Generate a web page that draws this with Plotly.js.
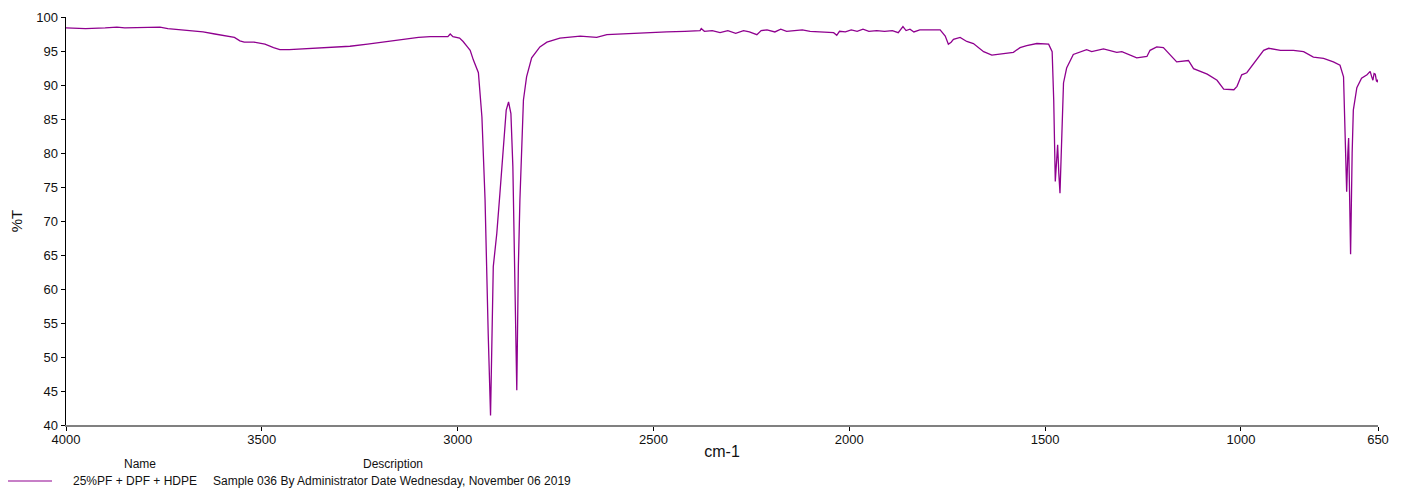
<!DOCTYPE html>
<html>
<head>
<meta charset="utf-8">
<script src="https://cdn.plot.ly/plotly-3.0.1.min.js"></script>
<style>html,body{margin:0;padding:0;background:#fff;}#chart{width:1409px;height:491px;}</style>
</head>
<body>
<div id="chart"></div>
<script>
const wavenumber = [4000,3950,3900,3870,3850,3800,3760,3740,3720,3700,3680,3650,3620,3590,3570,3556,3545,3520,3492,3470,3454,3430,3402,3350,3300,3275,3230,3180,3147,3100,3070,3040,3025,3019,3012,2995,2986,2975,2968,2960,2947,2938,2930,2922,2916,2909,2900,2892,2883,2876,2870,2864,2859,2854,2849,2845,2841,2832,2824,2811,2790,2772,2739,2687,2645,2619,2585,2551,2500,2466,2420,2381,2378,2370,2350,2330,2310,2290,2270,2255,2236,2225,2210,2190,2175,2160,2140,2120,2100,2080,2060,2040,2032,2025,2010,1995,1980,1965,1950,1930,1910,1890,1875,1863,1855,1845,1835,1820,1790,1768,1755,1747,1740,1734,1717,1700,1683,1670,1657,1636,1606,1581,1564,1547,1521,1491,1482,1478,1474,1468,1465,1462,1453,1445,1428,1394,1381,1351,1317,1304,1266,1240,1232,1215,1198,1164,1134,1121,1086,1061,1044,1018,1010,998,985,942,929,899,866,840,815,789,764,747,738,734,730,727,725,722,720,716,713,704,692,678,670,666,663,660,657,654,652,650];
const transmittance = [98.4,98.3,98.4,98.5,98.4,98.4,98.5,98.3,98.2,98.1,98.0,97.8,97.5,97.2,97.0,96.5,96.3,96.3,96.0,95.5,95.2,95.2,95.3,95.5,95.6,95.7,96.0,96.4,96.6,97.0,97.1,97.1,97.1,97.5,97.1,96.9,96.4,95.6,95.1,93.7,91.8,85.3,73.1,53.5,41.4,63.3,68.2,74.1,81.4,86.3,87.5,85.8,78.0,63.3,45.1,63.3,73.1,87.8,91.2,94.0,95.6,96.3,96.9,97.2,97.0,97.4,97.5,97.6,97.8,97.8,97.9,98.0,98.3,97.9,98.0,97.7,98.0,97.6,98.0,97.8,97.4,98.0,98.1,97.8,98.2,97.9,98.0,98.1,97.9,97.8,97.8,97.7,97.3,97.9,97.8,98.1,97.9,98.2,97.9,98.0,97.9,98.0,97.7,98.6,98.0,98.2,97.8,98.1,98.1,98.1,97.2,96.0,96.3,96.7,97.0,96.4,96.1,95.5,94.9,94.4,94.6,94.8,95.5,95.8,96.1,96.0,94.9,87.8,75.8,81.2,77.0,74.1,90.3,92.5,94.5,95.2,94.9,95.3,94.8,94.9,94.0,94.2,95.1,95.6,95.5,93.4,93.6,92.4,91.6,90.7,89.4,89.3,89.8,91.5,91.8,95.1,95.4,95.1,95.1,94.9,94.1,93.9,93.4,92.9,91.2,82.9,74.3,80.0,82.2,72.0,65.1,80.0,86.3,89.6,91.0,91.5,92.0,91.2,90.7,91.7,91.6,90.6,90.5,90.8];
const xTicks = [4000,3500,3000,2500,2000,1500,1000,650];
const yTicks = [40,45,50,55,60,65,70,75,80,85,90,95,100];
const seriesName = "25%PF + DPF + HDPE";
const seriesDesc = "Sample 036 By Administrator Date Wednesday, November 06 2019";

const W = 1409, H = 491, L = 66, R = 31, T = 17, B = 66;
const pw = W - L - R, ph = H - T - B;
const px = v => (v - L) / pw;
const py = v => (H - B - v) / ph;
const lineColor = '#8f008f';
const font = 'Arial, "Liberation Sans", sans-serif';

const trace = {
  x: wavenumber, y: transmittance, type: 'scatter', mode: 'lines',
  line: {color: lineColor, width: 1.3}, name: seriesName, showlegend: false
};

const layout = {
  width: W, height: H,
  margin: {l: L, r: R, t: T, b: B, pad: 0},
  paper_bgcolor: '#fff', plot_bgcolor: '#fff',
  font: {family: font, color: '#111', size: 13},
  showlegend: false,
  xaxis: {
    range: [4000, 650], tickvals: xTicks, ticktext: xTicks.map(String),
    showgrid: false, zeroline: false, showline: true, linecolor: '#808080', linewidth: 2,
    ticks: 'outside', ticklen: 4, tickcolor: '#000', tickwidth: 1,
    ticklabelstandoff: -3,
    tickfont: {family: font, size: 13, color: '#111'},
    title: {text: 'cm-1', font: {family: font, size: 16, color: '#111'}, standoff: 0}
  },
  yaxis: {
    range: [40, 100], tickvals: yTicks, ticktext: yTicks.map(String),
    showgrid: false, zeroline: false, showline: true, linecolor: '#000', linewidth: 1.5,
    ticks: 'outside', ticklen: 4, tickcolor: '#000', tickwidth: 1,
    tickfont: {family: font, size: 13, color: '#111'},
    title: {text: '%T', font: {family: font, size: 15, color: '#111'}, standoff: 10}
  },
  shapes: [
    {type: 'line', xref: 'paper', yref: 'paper', x0: px(8), x1: px(52), y0: py(481), y1: py(481),
     line: {color: lineColor, width: 1.2}}
  ],
  annotations: [
    {text: 'Name', xref: 'paper', yref: 'paper', x: px(140), y: py(464), xanchor: 'center', yanchor: 'middle', showarrow: false, font: {family: font, size: 12, color: '#111'}},
    {text: 'Description', xref: 'paper', yref: 'paper', x: px(393), y: py(464), xanchor: 'center', yanchor: 'middle', showarrow: false, font: {family: font, size: 12, color: '#111'}},
    {text: seriesName, xref: 'paper', yref: 'paper', x: px(71), y: py(481), xanchor: 'left', yanchor: 'middle', showarrow: false, font: {family: font, size: 12, color: '#111'}},
    {text: seriesDesc, xref: 'paper', yref: 'paper', x: px(211), y: py(481), xanchor: 'left', yanchor: 'middle', showarrow: false, font: {family: font, size: 12, color: '#111'}}
  ]
};

Plotly.newPlot('chart', [trace], layout, {displayModeBar: false, staticPlot: true});
</script>
</body>
</html>
